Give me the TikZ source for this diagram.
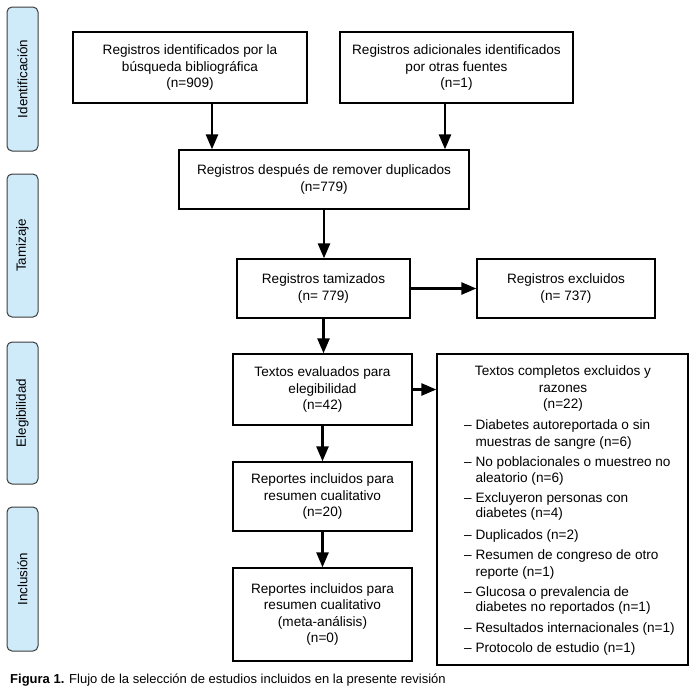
\documentclass[tikz,border=0pt]{standalone}
\usepackage{fontspec}
\setmainfont{Liberation Sans}
\usetikzlibrary{arrows.meta}
\definecolor{sidefill}{RGB}{207,234,249}
\definecolor{sidedraw}{RGB}{60,60,60}
\begin{document}
\begin{tikzpicture}[x=1pt,y=-1pt,
  box/.style={draw=black, line width=1.3pt, align=center, inner sep=0pt,
    font=\fontsize{13.6}{16.5}\selectfont},
  side/.style={draw=sidedraw, fill=sidefill, line width=1pt, rounded corners=5pt,
    rotate=90, minimum height=31pt, inner sep=0pt, font=\fontsize{13.4}{16}\selectfont},
  arr/.style={line width=2.6pt, -{Triangle[length=15pt,width=12pt]}},
  txt/.style={inner sep=0pt, font=\fontsize{13.6}{16.5}\selectfont},
  item/.style={txt, anchor=base west},
]
\useasboundingbox (0,0) rectangle (695,696);

% phase labels
\node[side, minimum width=144pt] (s1) at (22.5,79) {Identificación};
\node[side, minimum width=143pt] (s2) at (22.5,245.5) {Tamizaje};
\node[side, minimum width=142pt] (s3) at (22.5,413) {Elegibilidad};
\node[side, minimum width=144pt] (s4) at (22.5,579) {Inclusión};

% boxes
\node[box, minimum width=234pt, minimum height=71pt] (A) at (190,67.5)
  {Registros identificados por la\\búsqueda bibliográfica\\(n=909)};
\node[box, minimum width=233pt, minimum height=71pt] (B) at (456.5,67.5)
  {Registros adicionales identificados\\por otras fuentes\\(n=1)};
\node[box, minimum width=290pt, minimum height=59pt] (C) at (324,179.5)
  {Registros después de remover duplicados\\(n=779)};
\node[box, minimum width=173pt, minimum height=59pt] (D) at (323.5,288.5)
  {Registros tamizados\\(n= 779)};
\node[box, minimum width=178pt, minimum height=59pt] (E) at (566,288.5)
  {Registros excluidos\\(n= 737)};
\node[box, minimum width=179pt, minimum height=71pt] (F) at (322.5,389.5)
  {Textos evaluados para\\elegibilidad\\(n=42)};
\node[box, minimum width=179pt, minimum height=69pt] (G) at (322.5,496.5)
  {Reportes incluidos para\\resumen cualitativo\\(n=20)};
\node[box, minimum width=179pt, minimum height=93pt] (H) at (322.5,614.5)
  {Reportes incluidos para\\resumen cualitativo\\(meta-análisis)\\(n=0)};
\node[box, minimum width=251pt, minimum height=311pt] (I) at (562.5,509.5) {};

% exclusion box texts
\node[txt, align=center] (It) at (563,388.5)
  {Textos completos excluidos y\\razones\\(n=22)};
\node[item] (l1) at (464,429.5) {– Diabetes autoreportada o sin};
\node[item] (l2) at (464,446) {\hphantom{– }muestras de sangre (n=6)};
\node[item] (l3) at (464,466.5) {– No poblacionales o muestreo no};
\node[item] (l4) at (464,482) {\hphantom{– }aleatorio (n=6)};
\node[item] (l5) at (464,502.5) {– Excluyeron personas con};
\node[item] (l6) at (464,517.5) {\hphantom{– }diabetes (n=4)};
\node[item] (l7) at (464,539.5) {– Duplicados (n=2)};
\node[item] (l8) at (464,559.5) {– Resumen de congreso de otro};
\node[item] (l9) at (464,576) {\hphantom{– }reporte (n=1)};
\node[item] (l10) at (464,596) {– Glucosa o prevalencia de};
\node[item] (l11) at (464,611) {\hphantom{– }diabetes no reportados (n=1)};
\node[item] (l12) at (464,632.5) {– Resultados internacionales (n=1)};
\node[item] (l13) at (464,652.5) {– Protocolo de estudio (n=1)};

% connectors
\coordinate (ax) at (212,0);
\coordinate (bx) at (445,0);
\draw[arr] (A.south -| ax) -- (C.north -| ax);
\draw[arr] (B.south -| bx) -- (C.north -| bx);
\draw[arr] (C.south) -- (C.south |- D.north);
\draw[arr] (D.east) -- (E.west);
\draw[arr] (D.south) -- (D.south |- F.north);
\draw[arr] (F.south) -- (G.north);
\draw[arr] (G.south) -- (H.north);
\draw[arr] (F.east) -- (F.east -| I.west);

% caption
\node[txt, anchor=base west, font=\fontsize{13}{15}\selectfont] (cap) at (10,683.5)
  {\textbf{Figura 1.} Flujo de la selección de estudios incluidos en la presente revisión};
\end{tikzpicture}
\end{document}
